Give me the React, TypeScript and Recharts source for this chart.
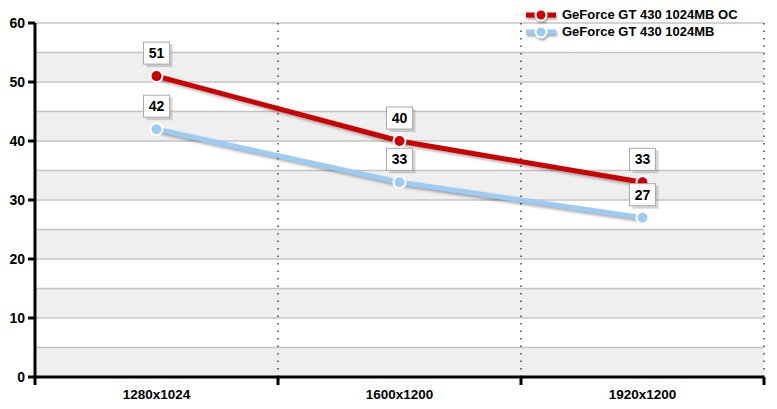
import {
  LineChart,
  Line,
  XAxis,
  YAxis,
  ReferenceArea,
  ReferenceLine,
  LabelList,
} from "recharts";

const resolutions = ["1280x1024", "1600x1200", "1920x1200"];
const gt430oc = [51, 40, 33];
const gt430 = [42, 33, 27];
const yTicks = [0, 10, 20, 30, 40, 50, 60];
const gridValues = [5, 10, 15, 20, 25, 30, 35, 40, 45, 50, 55, 60];
const grayBands = [0, 10, 20, 30, 40, 50];

const COR_OC = "#cc0000";
const COR_BASE = "#9ccbf3";
const FONT = "Arial, 'Liberation Sans', sans-serif";

const data = resolutions.map((res, i) => ({
  x: i + 0.5,
  res,
  oc: gt430oc[i],
  base: gt430[i],
}));

function XTick(props: any) {
  const { x, y, payload } = props;
  const v = payload.value as number;
  if (Number.isInteger(v)) {
    return <line x1={x} x2={x} y1={y} y2={y + 8} stroke="#000" strokeWidth={3} />;
  }
  return (
    <text x={x} y={y + 22} textAnchor="middle" fontFamily={FONT} fontSize={13.5} fontWeight="bold" fill="#000">
      {resolutions[Math.floor(v)]}
    </text>
  );
}

function ValueBox(props: any) {
  const { x, y, value } = props;
  const cy = y - 23;
  return (
    <g>
      <rect x={x - 12} y={cy - 11} width={26} height={23} fill="#888" opacity={0.35} transform="translate(2,2)" />
      <rect x={x - 13} y={cy - 11} width={26} height={22} fill="#fff" stroke="#aaa" strokeWidth={1} />
      <text x={x} y={cy + 5} textAnchor="middle" fontFamily={FONT} fontSize={14} fontWeight="bold" fill="#000">
        {value}
      </text>
    </g>
  );
}

function LegendRow({ color, label }: { color: string; label: string }) {
  return (
    <div style={{ display: "flex", alignItems: "center", height: 17 }}>
      <svg width={36} height={14} style={{ overflow: "visible", filter: "drop-shadow(1px 2px 1px rgba(0,0,0,0.35))" }}>
        <line x1={2} x2={32} y1={7} y2={7} stroke={color} strokeWidth={5} />
        <circle cx={17} cy={7} r={5.5} fill={color} stroke="#fff" strokeWidth={2} />
      </svg>
      <span style={{ fontFamily: FONT, fontSize: 13, fontWeight: "bold", marginLeft: 2 }}>{label}</span>
    </div>
  );
}

export default function App() {
  return (
    <div style={{ position: "absolute", left: 0, top: 0, width: 777, height: 409, background: "#fff" }}>
      <style>{`.ser path.recharts-curve { filter: drop-shadow(2px 2px 1.5px rgba(0,0,0,0.35)); }`}</style>
      <LineChart width={777} height={409} data={data} margin={{ top: 23, right: 13, left: 0, bottom: 0 }}>
        {grayBands.map((b) => (
          <ReferenceArea key={b} y1={b} y2={b + 5} fill="#efefef" fillOpacity={1} stroke="none" />
        ))}
        {gridValues.map((g) => (
          <ReferenceLine key={g} y={g} stroke="#c4c4c4" strokeWidth={1.5} />
        ))}
        {[1, 2, 3].map((v) => (
          <ReferenceLine key={v} x={v} stroke="#444" strokeWidth={1.5} strokeDasharray="1.5 6" />
        ))}
        <XAxis
          dataKey="x"
          type="number"
          domain={[0, 3]}
          ticks={[0, 0.5, 1, 1.5, 2, 2.5, 3]}
          interval={0}
          tickSize={0}
          tickMargin={0}
          tickLine={false}
          tick={<XTick />}
          axisLine={{ stroke: "#000", strokeWidth: 3 }}
          height={32}
        />
        <YAxis
          domain={[0, 60]}
          ticks={yTicks}
          interval={0}
          width={35}
          tickSize={7}
          tickMargin={3}
          tickLine={{ stroke: "#000", strokeWidth: 3 }}
          axisLine={{ stroke: "#000", strokeWidth: 3 }}
          tick={{ fontFamily: FONT, fontSize: 14, fontWeight: "bold", fill: "#000" }}
        />
        <Line
          className="ser"
          type="linear"
          dataKey="base"
          stroke={COR_BASE}
          strokeWidth={5}
          dot={{ r: 6, fill: COR_BASE, stroke: "#fff", strokeWidth: 2 }}
          isAnimationActive={false}
        >
          <LabelList dataKey="base" content={<ValueBox />} />
        </Line>
        <Line
          className="ser"
          type="linear"
          dataKey="oc"
          stroke={COR_OC}
          strokeWidth={5}
          dot={{ r: 6, fill: COR_OC, stroke: "#fff", strokeWidth: 2 }}
          isAnimationActive={false}
        >
          <LabelList dataKey="oc" content={<ValueBox />} />
        </Line>
      </LineChart>
      <div style={{ position: "absolute", left: 524, top: 6 }}>
        <LegendRow color={COR_OC} label="GeForce GT 430 1024MB OC" />
        <LegendRow color={COR_BASE} label="GeForce GT 430 1024MB" />
      </div>
    </div>
  );
}
